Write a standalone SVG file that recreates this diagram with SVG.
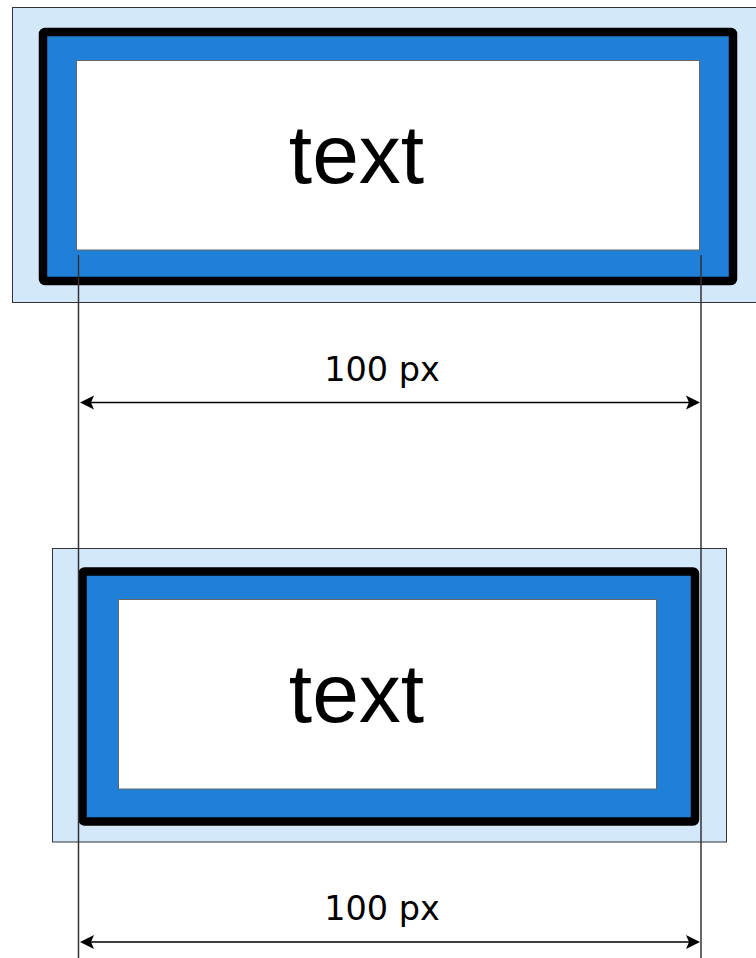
<svg xmlns="http://www.w3.org/2000/svg" width="756" height="958" viewBox="0 0 756 958">
<style>
.halo{fill:#d4e8fc;stroke:#333;stroke-width:1}
.frame{fill:#2080d8;stroke:#000;stroke-width:8.5;stroke-linejoin:round}
.inner{fill:#fff;stroke:#666;stroke-width:1}
.big{font-family:"Liberation Sans",Arial,sans-serif;font-size:84px;fill:#000;text-anchor:middle}
.dim{font-family:"DejaVu Sans",Verdana,sans-serif;font-size:33.5px;fill:#000;text-anchor:middle}
.guide{stroke:#333;stroke-width:1.5;fill:none}
.arr{stroke:#000;stroke-width:1.4;fill:none}
</style>
<rect width="756" height="958" fill="#fff"/>
<g id="box1">
<rect class="halo" x="12.5" y="7.5" width="750" height="295"/>
<rect class="frame" x="43" y="32" width="690" height="249" rx="2"/>
<rect class="inner" x="76.5" y="60.5" width="623" height="189.5"/>
<text class="big" x="356.5" y="183">text</text>
</g>
<g id="box2">
<rect class="halo" x="52.5" y="548.5" width="674" height="293.5"/>
<rect class="frame" x="82.5" y="571.5" width="612.5" height="250" rx="2"/>
<rect class="inner" x="118.5" y="599.5" width="538" height="189.5"/>
<text class="big" x="356.5" y="722">text</text>
</g>
<g id="connectors">
<line class="guide" x1="78.5" y1="255" x2="78.5" y2="958"/>
<line class="guide" x1="701" y1="255" x2="701" y2="958"/>
<line class="arr" x1="90" y1="402.5" x2="690" y2="402.5"/>
<polygon points="80,402.5 94,395.5 91,402.5 94,409.5" fill="#000"/>
<polygon points="700,402.5 686,395.5 689,402.5 686,409.5" fill="#000"/>
<line class="arr" x1="90" y1="942" x2="690" y2="942"/>
<polygon points="80,942 94,935 91,942 94,949" fill="#000"/>
<polygon points="700,942 686,935 689,942 686,949" fill="#000"/>
</g>
<g id="labels">
<text class="dim" x="382" y="381">100 px</text>
<text class="dim" x="382" y="920">100 px</text>
</g>
</svg>
